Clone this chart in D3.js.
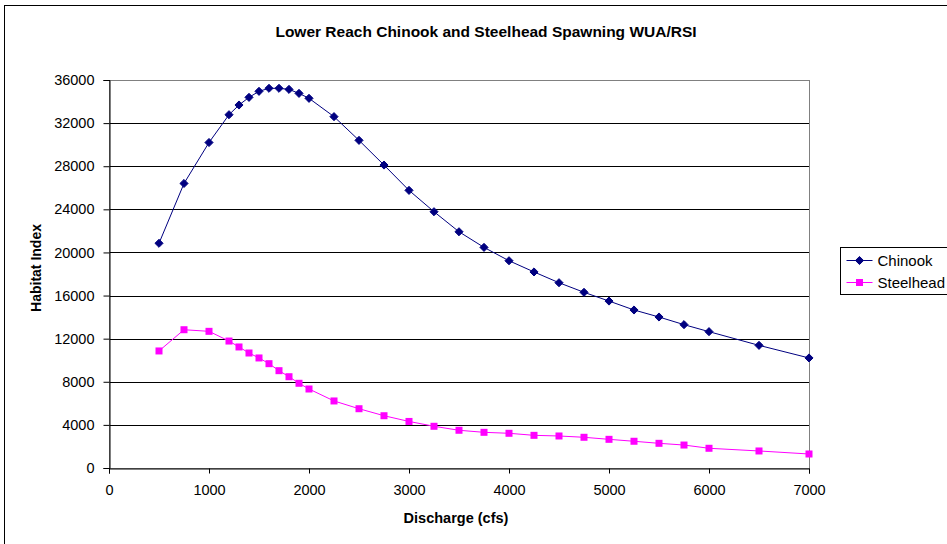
<!DOCTYPE html>
<html>
<head>
<meta charset="utf-8">
<script src="https://cdnjs.cloudflare.com/ajax/libs/d3/7.8.5/d3.min.js"></script>
<style>
  body { margin: 0; background: #fff; }
  text { font-family: "Liberation Sans", Arial, sans-serif; }
</style>
</head>
<body>
<script>
// chart data
var discharge = [500, 750, 1000, 1200, 1300, 1400, 1500, 1600, 1700, 1800, 1900, 2000,
    2250, 2500, 2750, 3000, 3250, 3500, 3750, 4000, 4250, 4500, 4750, 5000,
    5250, 5500, 5750, 6000, 6500, 7000];
var chinook = [20850, 26400, 30200, 32780, 33680, 34390, 34950, 35230, 35230, 35130, 34760, 34300,
    32600, 30400, 28110, 25760, 23780, 21920, 20470, 19230, 18190, 17190, 16300, 15490,
    14660, 14010, 13300, 12650, 11380, 10210];
var steelhead = [10860, 12830, 12680, 11780, 11230, 10670, 10210, 9680, 9030, 8470, 7860, 7330,
    6220, 5500, 4850, 4320, 3870, 3500, 3310, 3220, 3030, 2970, 2850, 2660,
    2480, 2290, 2130, 1830, 1580, 1300];
var xTicks = [0, 1000, 2000, 3000, 4000, 5000, 6000, 7000];
var yTicks = [0, 4000, 8000, 12000, 16000, 20000, 24000, 28000, 32000, 36000];

var W = 947, H = 544;
var margin = {top: 80, right: 138, bottom: 76, left: 109};

var svg = d3.select("body").append("svg")
    .attr("width", W)
    .attr("height", H);

// outer chart frame (right/bottom edges run off the picture)
svg.append("rect")
    .attr("x", 4.5).attr("y", 5.5)
    .attr("width", 960).attr("height", 560)
    .attr("fill", "#fff").attr("stroke", "#000");

var x = d3.scaleLinear().domain([0, 7000]).range([margin.left, W - margin.right]);
var y = d3.scaleLinear().domain([0, 36000]).range([H - margin.bottom, margin.top]);

// gridlines
svg.append("g")
    .selectAll("line")
    .data(yTicks.filter(d => d > 0 && d < 36000))
    .join("line")
    .attr("x1", x(0)).attr("x2", x(7000))
    .attr("y1", d => Math.round(y(d)) + 0.5)
    .attr("y2", d => Math.round(y(d)) + 0.5)
    .attr("stroke", "#000")
    .attr("stroke-width", 1);

// plot border
svg.append("rect")
    .attr("x", x(0) + 0.5).attr("y", Math.round(y(36000)) + 0.5)
    .attr("width", x(7000) - x(0))
    .attr("height", Math.round(y(0)) - Math.round(y(36000)))
    .attr("fill", "none")
    .attr("stroke", "#808080");

// axes
var xAxis = svg.append("g")
    .attr("transform", "translate(0," + (Math.round(y(0)) + 0.5) + ")")
    .call(d3.axisBottom(x).tickValues(xTicks).tickSize(5).tickPadding(11).tickFormat(d3.format("d")));
var yAxis = svg.append("g")
    .attr("transform", "translate(" + (x(0) + 0.5) + ",0)")
    .call(d3.axisLeft(y).tickValues(yTicks).tickSize(6).tickPadding(9).tickFormat(d3.format("d")));

[xAxis, yAxis].forEach(function(a) {
    a.select(".domain").attr("stroke", "#000");
    a.selectAll(".tick line").attr("stroke", "#000");
    a.selectAll("text")
        .attr("fill", "#000")
        .style("font-size", "14.5px")
        .style("font-family", "'Liberation Sans', Arial, sans-serif");
});

// lines + markers
var line = d3.line()
    .x((d, i) => x(discharge[i]))
    .y(d => y(d));

svg.append("path")
    .datum(chinook)
    .attr("d", line)
    .attr("fill", "none")
    .attr("stroke", "#000080")
    .attr("stroke-width", 1);

svg.append("path")
    .datum(steelhead)
    .attr("d", line)
    .attr("fill", "none")
    .attr("stroke", "#ff00ff")
    .attr("stroke-width", 1);

var diamond = d3.symbol().type(d3.symbolDiamond2).size(42);

svg.append("g")
    .selectAll("path")
    .data(chinook)
    .join("path")
    .attr("d", diamond)
    .attr("transform", (d, i) => "translate(" + x(discharge[i]) + "," + y(d) + ")")
    .attr("fill", "#000080")
    .attr("stroke", "#000080");

svg.append("g")
    .selectAll("rect")
    .data(steelhead)
    .join("rect")
    .attr("x", (d, i) => x(discharge[i]) - 3.5)
    .attr("y", d => y(d) - 3.5)
    .attr("width", 7).attr("height", 7)
    .attr("fill", "#ff00ff");

// titles
svg.append("text")
    .attr("x", 486).attr("y", 37)
    .attr("text-anchor", "middle")
    .style("font-size", "15.5px").style("font-weight", "bold")
    .text("Lower Reach Chinook and Steelhead Spawning WUA/RSI");

svg.append("text")
    .attr("x", 456).attr("y", 523)
    .attr("text-anchor", "middle")
    .style("font-size", "14.5px").style("font-weight", "bold")
    .text("Discharge (cfs)");

svg.append("text")
    .attr("transform", "translate(41,268) rotate(-90)")
    .attr("text-anchor", "middle")
    .style("font-size", "14px").style("font-weight", "bold")
    .text("Habitat Index");

// legend
var legend = svg.append("g").attr("transform", "translate(840.5,247.5)");
legend.append("rect")
    .attr("width", 120).attr("height", 47)
    .attr("fill", "#fff").attr("stroke", "#000");

var series = [
    {name: "Chinook", color: "#000080", y: 13},
    {name: "Steelhead", color: "#ff00ff", y: 35}
];
series.forEach(function(s, k) {
    legend.append("line")
        .attr("x1", 6).attr("x2", 32)
        .attr("y1", s.y).attr("y2", s.y)
        .attr("stroke", s.color);
    if (k === 0) {
        legend.append("path").attr("d", diamond)
            .attr("transform", "translate(19," + s.y + ")")
            .attr("fill", s.color).attr("stroke", s.color);
    } else {
        legend.append("rect")
            .attr("x", 15.5).attr("y", s.y - 3.5)
            .attr("width", 7).attr("height", 7)
            .attr("fill", s.color);
    }
    legend.append("text")
        .attr("x", 37).attr("y", s.y + 5)
        .style("font-size", "15px")
        .text(s.name);
});
</script>
</body>
</html>
